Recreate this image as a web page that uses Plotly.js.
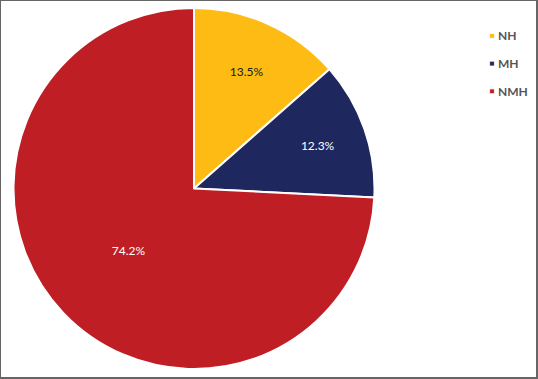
<!DOCTYPE html>
<html>
<head>
<meta charset="utf-8">
<script src="https://cdn.plot.ly/plotly-3.0.1.min.js"></script>
<style>
html,body{margin:0;padding:0;background:#fff;}
#plot{width:538px;height:379px;}
body::after{content:'';position:fixed;left:0;top:0;width:538px;height:379px;box-sizing:border-box;border:1px solid #666;border-right-width:2px;border-bottom-width:2px;pointer-events:none;}
.legendpie{transform:translate(34px,0px) scale(0.4) !important;}
.legendtext{transform:translate(0px,-3px);}
</style>
</head>
<body>
<div id="plot"></div>
<script>
const categories = ['NH', 'MH', 'NMH'];
const values = [13.5, 12.3, 74.2];
const colors = ['#FDBB13', '#1E285E', '#BF1E25'];
const textColors = ['#1a1a1a', '#ffffff', '#ffffff'];

const trace = {
  type: 'pie',
  labels: categories.map(c => '<span style="font-size:12px">' + c + '</span>'),
  values: values,
  sort: false,
  direction: 'clockwise',
  rotation: 0,
  marker: {colors: colors, line: {color: '#ffffff', width: 2}},
  textinfo: 'percent',
  texttemplate: '%{value:.1f}%',
  textposition: 'inside',
  insidetextorientation: 'horizontal',
  insidetextfont: {family: 'Lato, sans-serif', size: 12, color: textColors},
  hoverinfo: 'none',
  domain: {x: [13.5/538, 374.5/538], y: [10/379, 371/379]}
};

const layout = {
  width: 538, height: 379,
  margin: {l: 0, r: 0, t: 0, b: 0},
  paper_bgcolor: '#ffffff',
  showlegend: true,
  legend: {
    x: 458/538, y: 0.955, xanchor: 'left', yanchor: 'top',
    font: {family: 'Lato, sans-serif', size: 19, color: '#555555', weight: 'bold'},
    bgcolor: 'rgba(0,0,0,0)'
  }
};

Plotly.newPlot('plot', [trace], layout, {displayModeBar: false, staticPlot: true});
</script>
</body>
</html>
